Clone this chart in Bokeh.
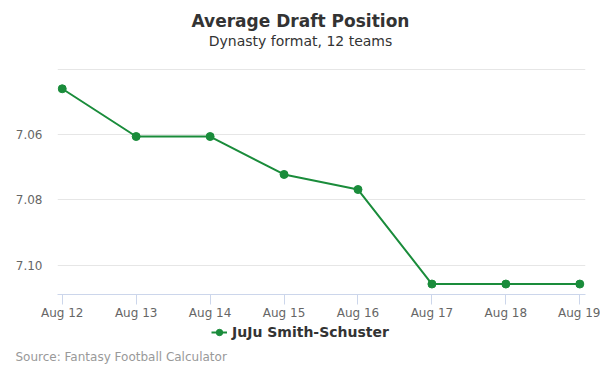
from bokeh.plotting import figure
from bokeh.layouts import column, row
from bokeh.models import Range1d, FixedTicker, Label, Legend, LegendItem, Spacer
from bokeh.embed import file_html
from bokeh.resources import INLINE

dates = ["Aug 12", "Aug 13", "Aug 14", "Aug 15", "Aug 16", "Aug 17", "Aug 18", "Aug 19"]
adp = [7.046, 7.0606, 7.0606, 7.0722, 7.0768, 7.1057, 7.1057, 7.1057]
y_ticks = [7.04, 7.06, 7.08, 7.10]
y_tick_labels = ["", "7.06", "7.08", "7.10"]
series_name = "JuJu Smith-Schuster"
title_text = "Average Draft Position"
subtitle_text = "Dynasty format, 12 teams"
source_text = "Source: Fantasy Football Calculator"

color = "#1a8c3b"
FONT = "DejaVu Sans"
W = 600
HEAD_H = 56
FOOT_H = 50
LEFT_PAD = 9
NAN = float("nan")


def bare(h):
    f = figure(width=W, height=h, output_backend="svg", toolbar_location=None,
               x_range=Range1d(0, W), y_range=Range1d(h, 0),
               x_axis_type=None, y_axis_type=None,
               min_border_left=0, min_border_right=0, min_border_top=0, min_border_bottom=0)
    f.outline_line_color = None
    f.xgrid.visible = False
    f.ygrid.visible = False
    f.border_fill_color = "white"
    f.background_fill_color = "white"
    return f


# header
head = bare(HEAD_H)
head.add_layout(Label(x=300, y=20, text=title_text, text_align="center", text_baseline="middle",
                      text_font=FONT, text_font_size="17px", text_font_style="bold",
                      text_color="#333333"))
head.add_layout(Label(x=300, y=40, text=subtitle_text, text_align="center", text_baseline="middle",
                      text_font=FONT, text_font_size="14px", text_color="#333333"))

# main chart
xs = list(range(len(dates)))
p = figure(width=W - LEFT_PAD, height=266, output_backend="svg", toolbar_location=None,
           x_range=Range1d(-0.064, len(dates) - 1 + 0.077),
           y_range=Range1d(7.1089, 7.0398),
           min_border_left=57 - LEFT_PAD, min_border_right=15, min_border_top=12, min_border_bottom=28)
p.outline_line_color = None
p.background_fill_color = "white"
p.border_fill_color = "white"

p.line(xs, adp, line_color=color, line_width=2)
p.scatter(xs, adp, size=8, fill_color=color, line_color=color)

p.xgrid.grid_line_color = None
p.ygrid.grid_line_color = "#e6e6e6"
p.ygrid.ticker = FixedTicker(ticks=y_ticks)

p.xaxis.ticker = FixedTicker(ticks=xs)
p.xaxis.major_label_overrides = {i: d for i, d in zip(xs, dates)}
p.xaxis.axis_line_color = "#ccd6eb"
p.xaxis.major_tick_line_color = "#ccd6eb"
p.xaxis.major_tick_out = 10
p.xaxis.major_tick_in = 0
p.xaxis.minor_tick_line_color = None
p.xaxis.major_label_text_font = FONT
p.xaxis.major_label_text_font_size = "12px"
p.xaxis.major_label_text_color = "#666666"
p.xaxis.major_label_standoff = 1

p.yaxis.ticker = FixedTicker(ticks=y_ticks)
p.yaxis.major_label_overrides = {t: l for t, l in zip(y_ticks, y_tick_labels)}
p.yaxis.axis_line_color = None
p.yaxis.major_tick_line_color = None
p.yaxis.major_tick_out = 0
p.yaxis.major_tick_in = 0
p.yaxis.minor_tick_line_color = None
p.yaxis.major_label_text_font = FONT
p.yaxis.major_label_text_font_size = "12px"
p.yaxis.major_label_text_color = "#666666"
p.yaxis.major_label_standoff = 15

# footer: legend + source
foot = bare(FOOT_H)
lg_line = foot.line(x=[NAN], y=[NAN], line_color=color, line_width=2)
lg_pts = foot.scatter(x=[NAN], y=[NAN], size=8, fill_color=color, line_color=color)
legend = Legend(items=[LegendItem(label=series_name, renderers=[lg_line, lg_pts])],
                location=(211, 32), orientation="horizontal",
                label_text_font=FONT, label_text_font_size="14px", label_text_font_style="bold",
                label_text_color="#333333", border_line_color=None, background_fill_alpha=0,
                glyph_width=16, glyph_height=16, label_standoff=5, padding=0, margin=0,
                label_height=16)
foot.add_layout(legend, "center")
foot.add_layout(Label(x=15, y=34, text=source_text, text_align="left", text_baseline="middle",
                      text_font=FONT, text_font_size="12px", text_color="#999999"))

layout = column(row(head), row(Spacer(width=LEFT_PAD, height=266), p, spacing=0), row(foot), spacing=0)
open("out.html", "w").write(file_html(layout, INLINE))
